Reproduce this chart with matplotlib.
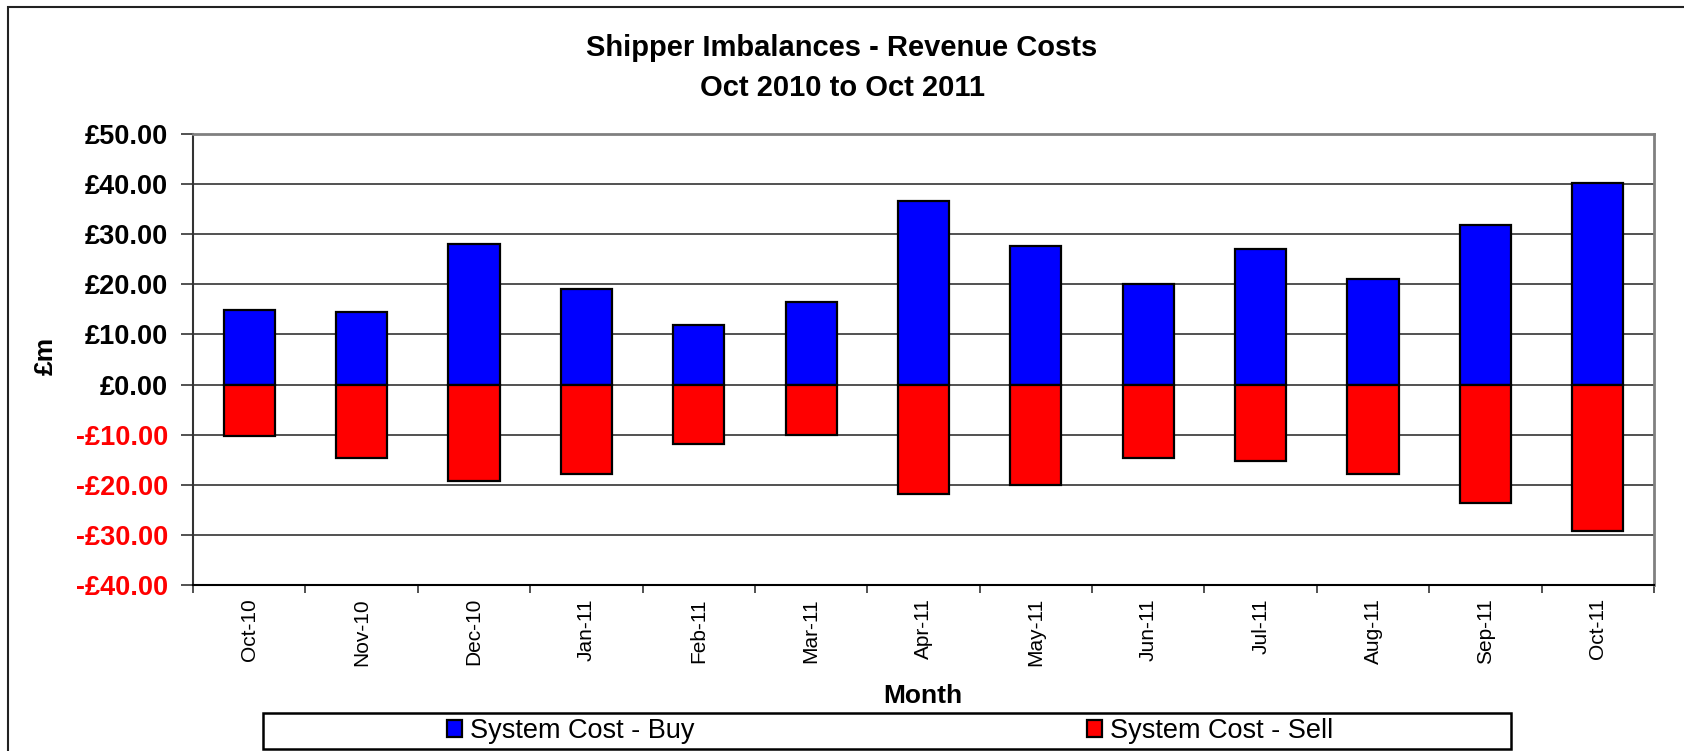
import numpy as np
import matplotlib
matplotlib.use("Agg")
import matplotlib.pyplot as plt
from matplotlib.patches import Rectangle
from matplotlib.ticker import FuncFormatter, FixedLocator

plt.rcParams['font.family'] = ['Liberation Sans', 'DejaVu Sans']

months = ['Oct-10', 'Nov-10', 'Dec-10', 'Jan-11', 'Feb-11', 'Mar-11', 'Apr-11',
          'May-11', 'Jun-11', 'Jul-11', 'Aug-11', 'Sep-11', 'Oct-11']
buy = [14.8, 14.4, 28.1, 19.1, 11.8, 16.5, 36.7, 27.7, 20.0, 27.1, 21.0, 31.8, 40.3]
sell = [-10.3, -14.6, -19.3, -17.8, -11.8, -10.1, -21.9, -20.0, -14.6, -15.2, -17.8, -23.7, -29.3]

W, H = 1684, 751
fig = plt.figure(figsize=(W / 100, H / 100), dpi=100)
ax = fig.add_axes([193 / W, 1 - 585 / H, (1654 - 193) / W, (585 - 134) / H])

x = np.arange(len(months))
b1 = ax.bar(x, buy, width=0.4545, color='#0000ff', edgecolor='black', linewidth=1.6, zorder=3,
            label='System Cost - Buy')
b2 = ax.bar(x, sell, width=0.4545, color='#ff0000', edgecolor='black', linewidth=1.6, zorder=3,
            label='System Cost - Sell')

ax.set_xlim(-0.5, len(months) - 0.5)
ax.set_ylim(-40, 50)
ax.set_yticks(np.arange(-40, 51, 10))
ax.yaxis.grid(True, color='#333333', linewidth=1.2, zorder=0)
ax.set_axisbelow(True)

def money(v, pos):
    if v < 0:
        return '-£%.2f' % abs(v)
    return '£%.2f' % v

ax.yaxis.set_major_formatter(FuncFormatter(money))
ax.tick_params(axis='y', direction='out', length=9, width=1.2, pad=9,
               labelsize=19.5, color='#333333')
for lab in ax.get_yticklabels():
    lab.set_fontweight('bold')
fig.canvas.draw()
for lab in ax.get_yticklabels():
    if lab.get_text().startswith('-'):
        lab.set_color('#ff0000')

ax.set_xticks(x)
ax.set_xticklabels(months, rotation=90, fontsize=15)
ax.xaxis.set_minor_locator(FixedLocator(np.arange(-0.5, len(months), 1)))
ax.tick_params(axis='x', which='major', length=0, pad=9.4)
ax.tick_params(axis='x', which='minor', length=6, width=1.2, color='#333333')

for s in ['top', 'right']:
    ax.spines[s].set_color('#808080')
    ax.spines[s].set_linewidth(2)
ax.spines['left'].set_color('#333333')
ax.spines['left'].set_linewidth(1.5)
ax.spines['bottom'].set_color('black')
ax.spines['bottom'].set_linewidth(1.5)

fig.text(0.5, 1 - 48 / H, 'Shipper Imbalances - Revenue Costs', ha='center', va='center',
         fontsize=21, fontweight='bold')
fig.text(0.5, 1 - 88 / H, 'Oct 2010 to Oct 2011', ha='center', va='center',
         fontsize=21, fontweight='bold')
fig.text(46 / W, 1 - 356 / H, '£m', rotation=90, ha='center', va='center',
         fontsize=19, fontweight='bold')
fig.text(923 / W, 1 - 696 / H, 'Month', ha='center', va='center',
         fontsize=19, fontweight='bold')

# outer chart border and legend box
fig.patches.append(Rectangle((8 / W, -0.5), 2, 1.5 - 7 / H, transform=fig.transFigure,
                             fill=False, edgecolor='#222222', linewidth=1.5))
fig.patches.append(Rectangle((263 / W, 1 - 749 / H), (1511 - 263) / W, 36 / H,
                             transform=fig.transFigure, fill=False, edgecolor='black',
                             linewidth=1.8))
leg = fig.legend(handles=[b1, b2], loc='center', bbox_to_anchor=(890 / W, 1 - 731 / H),
                 ncol=2, frameon=False, fontsize=19.5, handlelength=0.55, handleheight=0.55,
                 handletextpad=0.3, columnspacing=14.5)

fig.savefig('out.png', dpi=100, facecolor='white')
